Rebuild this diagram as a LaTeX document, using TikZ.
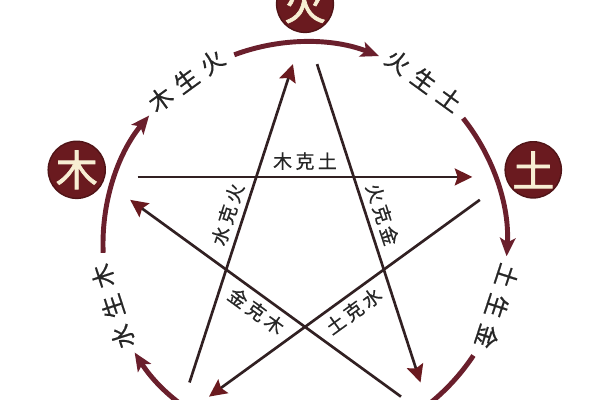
\documentclass[tikz,border=0pt]{standalone}
\usepackage{fontspec}
\newfontfamily\cjk{Noto Sans CJK SC}[FakeBold=0.6]
\newfontfamily\cjkb{Noto Sans CJK SC}[FakeBold=1.5]
\usetikzlibrary{arrows.meta}
\definecolor{zaohong}{HTML}{6A1A1F}
\definecolor{huan}{HTML}{6A1F2C}
\definecolor{mo}{HTML}{312022}
\definecolor{mi}{HTML}{F7EED3}
\newcommand\sheng[3]{#1\kern.33em#2\kern.33em#3}
\newcommand\ke[3]{#1\kern.18em#2\kern.18em#3}
\begin{document}
\begin{tikzpicture}[
  elem/.style={circle,draw=zaohong!75!black,line width=1pt,fill=zaohong,text=mi,minimum size=40pt,inner sep=0pt,font=\cjkb\fontsize{30}{30}\selectfont},
  shengarc/.style={huan,line width=3.5pt,-{Stealth[length=13pt,width=11pt,inset=3pt]}},
  keline/.style={mo,line width=1.9pt,shorten <=0.975cm,shorten >=0.975cm,-{Stealth[length=12.5pt,width=12pt,inset=2pt,color=zaohong]}},
  shenglabel/.style={text=black!85,font=\cjk\fontsize{17}{17}\selectfont,inner sep=1pt},
  kelabel/.style={text=black!85,font=\cjk\fontsize{13.5}{14}\selectfont,inner sep=4pt,sloped}]
			\useasboundingbox (-7.625,-3.9) rectangle (7.375,6.1);
			\clip (-7.625,-3.9) rectangle (7.375,6.1);
			\coordinate (s-huo) at (90:5.425);
			\coordinate (s-mu) at (162:5.425);
			\coordinate (s-shui) at (234:5.425);
			\coordinate (s-jin) at (306:5.425);
			\coordinate (s-tu) at (18:5.425);
			\draw[shengarc](182.5:5.05) arc[start angle=182.5,end angle=140.5,radius=5.05];
			\draw[shengarc](110.5:5.05) arc[start angle=110.5,end angle=68.5,radius=5.05];
			\draw[shengarc](38.5:5.05) arc[start angle=38.5,end angle=-3.5,radius=5.05];
			\draw[shengarc](-33.5:5.05) arc[start angle=-33.5,end angle=-75.5,radius=5.05];
			\draw[shengarc](254.5:5.05) arc[start angle=254.5,end angle=212.5,radius=5.05];
			\node[shenglabel,rotate=36] (mushenghuo) at (126:5.05) {\sheng{木}{生}{火}};
			\node[shenglabel,rotate=-36] (huoshengtu) at (54:5.05) {\sheng{火}{生}{土}};
			\node[shenglabel,rotate=-108] (tushengjin) at (-18:5.05) {\sheng{土}{生}{金}};
			\node[shenglabel,rotate=108] (shuishengmu) at (198:5.05) {\sheng{水}{生}{木}};
			\draw[keline](s-mu)--node[kelabel,above] (mukt) {\ke{木}{克}{土}} (s-tu);
			\draw[keline](s-shui)--node[kelabel,above,pos=0.51] (shuikh) {\ke{水}{克}{火}} (s-huo);
			\draw[keline](s-huo)--node[kelabel,above,pos=0.49] (huokj) {\ke{火}{克}{金}} (s-jin);
			\draw[keline](s-jin)--node[kelabel,below] (jinkm) {\ke{金}{克}{木}} (s-mu);
			\draw[keline](s-tu)--node[kelabel,below] (tuks) {\ke{土}{克}{水}} (s-shui);
			\node[elem] (huo) at (90:6) {火};
			\node[elem] (mu) at (162:6) {木};
			\node[elem] (tu) at (18:6) {土};
		\end{tikzpicture}
\end{document}
